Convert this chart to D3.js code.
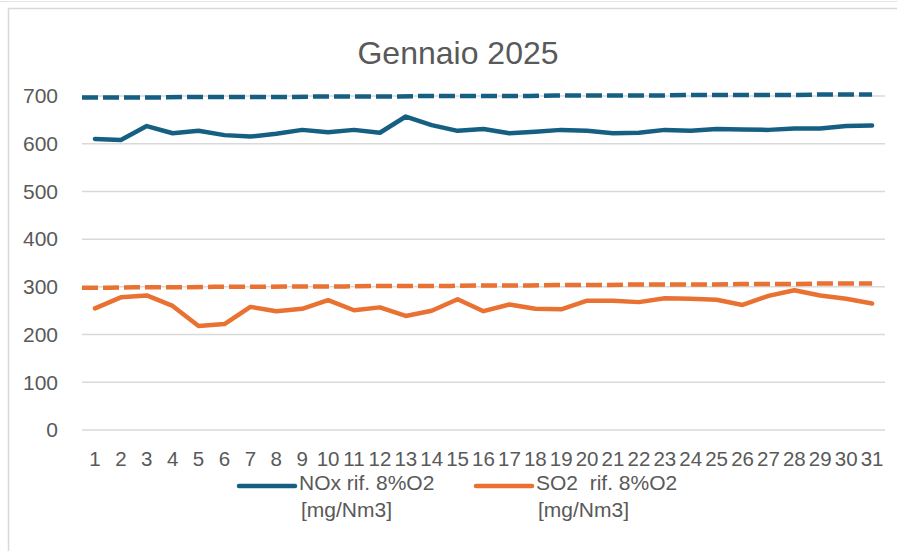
<!DOCTYPE html>
<html>
<head>
<meta charset="utf-8">
<script src="https://cdn.jsdelivr.net/npm/d3@7"></script>
<style>
  body { margin: 0; background: #fff; }
  text { font-family: "Liberation Sans", Arial, sans-serif; fill: #595959; }
</style>
</head>
<body>
<div id="chart"></div>
<script>
var days = d3.range(1, 32);
var noxValues = [610, 608, 637, 622, 627, 618, 615, 621, 629, 624, 629, 623, 657, 639, 627,
                 631, 622, 625, 629, 627, 622, 623, 629, 627, 631, 630, 629, 632, 632, 637, 638];
var so2Values = [255, 278, 282, 260, 218, 222, 258, 249, 254, 272, 251, 257, 239, 250, 274,
                 249, 263, 254, 253, 271, 271, 268, 276, 275, 273, 262, 281, 293, 282, 275, 265];
var noxLimit = [697, 697, 697, 697, 698, 698, 698, 698, 698, 699, 699, 699, 699, 700, 700, 700,
                700, 700, 701, 701, 701, 701, 701, 702, 702, 702, 702, 702, 703, 703, 703];
var so2Limit = [298, 298, 299, 299, 299, 300, 300, 300, 301, 301, 301, 302, 302, 302, 302, 303,
                303, 303, 304, 304, 304, 305, 305, 305, 305, 306, 306, 306, 307, 307, 307];
var yTicks = [0, 100, 200, 300, 400, 500, 600, 700];
var legendLabels = [["NOx rif. 8%O2", "[mg/Nm3]"], ["SO2\u00A0 rif. 8%O2", "[mg/Nm3]"]];

var svgWidth = 897;
var svgHeight = 551;
var margin = {top: 96, right: 12, bottom: 121, left: 82};
var width = svgWidth - margin.left - margin.right;
var height = svgHeight - margin.top - margin.bottom;
var blue = "#156082";
var orange = "#E97132";

var root = d3.select("#chart")
    .append("svg")
    .attr("width", svgWidth)
    .attr("height", svgHeight);

// chart frame
root.append("line")
    .attr("x1", 0).attr("x2", svgWidth)
    .attr("y1", 1.5).attr("y2", 1.5)
    .attr("stroke", "#e3e3e3");
root.append("rect")
    .attr("x", 8.5).attr("y", 8.5)
    .attr("width", 900).attr("height", 560)
    .attr("fill", "none")
    .attr("stroke", "#d9d9d9")
    .attr("stroke-width", 1.5);

root.append("text")
    .attr("x", 458)
    .attr("y", 64)
    .attr("text-anchor", "middle")
    .attr("font-size", "32px")
    .text("Gennaio 2025");

var svg = root.append("g")
    .attr("transform", "translate(" + margin.left + "," + margin.top + ")");

var xScale = d3.scaleBand().domain(days).range([0, width]);
var xCenter = function(d) { return xScale(d) + xScale.bandwidth() / 2; };
// limit lines run from the plot edge to the last day
var xLimit = d3.scalePoint().domain(days).range([0, xCenter(31)]);
var yScale = d3.scaleLinear().domain([0, 700]).range([height, 0]);

// gridlines
svg.append("g")
    .selectAll("line")
    .data(yTicks)
    .enter()
    .append("line")
    .attr("x1", 0)
    .attr("x2", width)
    .attr("y1", function(d) { return yScale(d); })
    .attr("y2", function(d) { return yScale(d); })
    .attr("stroke", "#d9d9d9")
    .attr("stroke-width", 1.5);

var leftAxis = d3.axisLeft(yScale).tickValues(yTicks).tickSize(0).tickPadding(24);
svg.append("g")
    .call(leftAxis)
    .call(function(g) { g.select(".domain").remove(); })
    .selectAll("text")
    .attr("font-size", "21px")
    .attr("fill", "#595959")
    .attr("font-family", "Liberation Sans, Arial, sans-serif");

var bottomAxis = d3.axisBottom(xScale).tickSize(0).tickPadding(21);
svg.append("g")
    .attr("transform", "translate(0," + height + ")")
    .call(bottomAxis)
    .call(function(g) { g.select(".domain").remove(); })
    .selectAll("text")
    .attr("font-size", "20.5px")
    .attr("fill", "#595959")
    .attr("font-family", "Liberation Sans, Arial, sans-serif");

var line = d3.line()
    .x(function(d, i) { return xCenter(days[i]); })
    .y(function(d) { return yScale(d); });
var limitLine = d3.line()
    .x(function(d, i) { return xLimit(days[i]); })
    .y(function(d) { return yScale(d); });

[[noxLimit, blue], [so2Limit, orange]].forEach(function(s) {
  svg.append("path")
      .datum(s[0])
      .attr("d", limitLine)
      .attr("fill", "none")
      .attr("stroke", s[1])
      .attr("stroke-width", 4.5)
      .attr("stroke-dasharray", "16,5");
});

[[noxValues, blue], [so2Values, orange]].forEach(function(s) {
  svg.append("path")
      .datum(s[0])
      .attr("d", line)
      .attr("fill", "none")
      .attr("stroke", s[1])
      .attr("stroke-width", 4.5)
      .attr("stroke-linejoin", "round")
      .attr("stroke-linecap", "round");
});

// legend
var legend = root.append("g");
var legendX = [239, 476];
[blue, orange].forEach(function(c, i) {
  legend.append("line")
      .attr("x1", legendX[i]).attr("x2", legendX[i] + 56)
      .attr("y1", 486).attr("y2", 486)
      .attr("stroke", c)
      .attr("stroke-width", 4.5)
      .attr("stroke-linecap", "round");
  var t = legend.append("text")
      .attr("x", legendX[i] + 60)
      .attr("y", 490)
      .attr("font-size", "21px");
  t.append("tspan").attr("x", legendX[i] + 60).text(legendLabels[i][0]);
  t.append("tspan").attr("x", legendX[i] + 62).attr("dy", 27).text(legendLabels[i][1]);
});
</script>
</body>
</html>
